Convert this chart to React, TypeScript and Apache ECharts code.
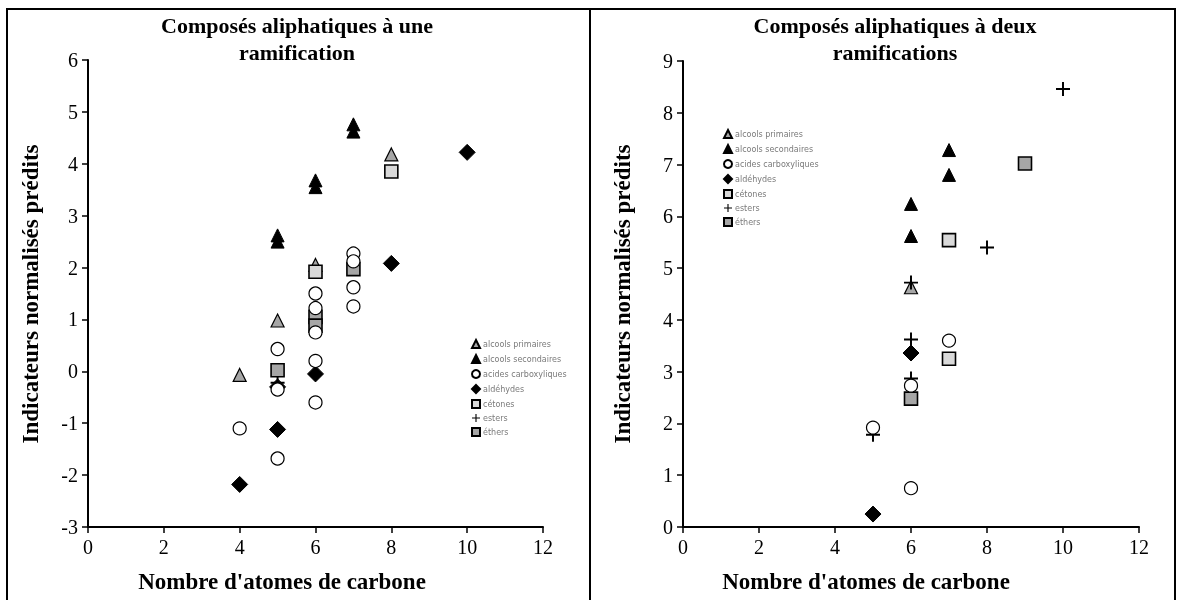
import React, { useEffect, useRef } from "react";
import * as echarts from "echarts";

const seriesNames = [
  "alcools primaires",
  "alcools secondaires",
  "acides carboxyliques",
  "aldéhydes",
  "cétones",
  "esters",
  "éthers",
];

// Left chart: one branch
const leftPrim = [[4, -0.07], [5, 0.98], [6, 2.05], [8, 4.18]];
const leftSec = [[5, 2.5], [5, 2.62], [6, 3.55], [6, 3.68], [7, 4.62], [7, 4.76]];
const leftCircle = [
  [4, -1.1], [5, 0.43], [5, -0.35], [5, -1.68],
  [6, 1.5], [6, 1.22], [6, 0.75], [6, 0.2], [6, -0.6],
  [7, 2.27], [7, 2.12], [7, 1.62], [7, 1.25],
];
const leftDiamond = [[4, -2.18], [5, -0.3], [5, -1.12], [6, -0.05], [8, 2.08], [10, 4.22]];
const leftLightSq = [[6, 1.92], [8, 3.85]];
const leftPlus = [[5, -0.22]];
const leftDarkSq = [[5, 0.02], [6, 1.05], [6, 0.88], [7, 1.97]];

// Right chart: two branches
const rightPrim = [[6, 4.63]];
const rightSec = [[6, 6.24], [6, 5.62], [7, 7.28], [7, 6.8]];
const rightCircle = [[5, 1.92], [6, 2.73], [6, 0.75], [7, 3.6]];
const rightDiamond = [[5, 0.25], [6, 3.36]];
const rightLightSq = [[7, 3.25], [7, 5.54]];
const rightPlus = [[5, 1.78], [6, 2.87], [6, 3.62], [6, 4.72], [8, 5.4], [10, 8.46]];
const rightDarkSq = [[6, 2.48], [9, 7.02]];

const PLUS = "path://M4.3,0H5.7V4.3H10V5.7H5.7V10H4.3V5.7H0V4.3H4.3Z";

const styles = [
  { symbol: "triangle", symbolSize: 13, itemStyle: { color: "#a6a6a6", borderColor: "#000", borderWidth: 1.2, opacity: 1 } },
  { symbol: "triangle", symbolSize: 13, itemStyle: { color: "#000", borderColor: "#000", borderWidth: 1, opacity: 1 } },
  { symbol: "circle", symbolSize: 13, itemStyle: { color: "#fff", borderColor: "#000", borderWidth: 1.2, opacity: 1 } },
  { symbol: "diamond", symbolSize: 16, itemStyle: { color: "#000", borderColor: "#000", borderWidth: 1, opacity: 1 } },
  { symbol: "rect", symbolSize: 13, itemStyle: { color: "#d9d9d9", borderColor: "#000", borderWidth: 1.6, opacity: 1 } },
  { symbol: PLUS, symbolSize: 14, itemStyle: { color: "#000", opacity: 1 } },
  { symbol: "rect", symbolSize: 13, itemStyle: { color: "#a6a6a6", borderColor: "#000", borderWidth: 1.6, opacity: 1 } },
];

const leftData = [leftPrim, leftSec, leftCircle, leftDiamond, leftLightSq, leftPlus, leftDarkSq];
const rightData = [rightPrim, rightSec, rightCircle, rightDiamond, rightLightSq, rightPlus, rightDarkSq];

const FONT = "Liberation Serif";

export default function App() {
  const ref = useRef<HTMLDivElement>(null);
  useEffect(() => {
    if (!ref.current) return;
    const chart = echarts.init(ref.current, undefined, { renderer: "svg" });

    const axisCommon = {
      axisLine: { onZero: false, lineStyle: { color: "#000", width: 2 } },
      axisTick: { show: true, inside: false, length: 6, lineStyle: { color: "#000", width: 1.5 } },
      axisLabel: { color: "#000", fontSize: 20, fontFamily: FONT, margin: 10 },
      splitLine: { show: false },
    };

    const series: any[] = [];
    [leftData, rightData].forEach((set, gi) => {
      set.forEach((d, i) => {
        series.push({
          type: "scatter",
          name: seriesNames[i],
          xAxisIndex: gi,
          yAxisIndex: gi,
          data: d,
          ...styles[i],
          z: i === 2 ? 4 : 3,
        });
      });
    });

    const legendCommon = {
      orient: "vertical",
      data: seriesNames,
      itemWidth: 8,
      itemHeight: 8,
      itemGap: 5,
      selectedMode: false,
      textStyle: { fontSize: 8, color: "#7a7a7a", fontFamily: "DejaVu Sans", padding: [0, 0, 0, -2] },
    };

    const titleFont = `bold 22px "${FONT}"`;
    const axisTitleFont = `bold 23px "${FONT}"`;
    const txt = (x: number, y: number, text: string, font: string, rotation = 0) => ({
      type: "text", x, y, rotation,
      style: { text, font, fill: "#000", textAlign: "center", textVerticalAlign: "middle" },
    });

    chart.setOption({
      animation: false,
      grid: [
        { left: 88, top: 60, width: 455, height: 467 },
        { left: 683, top: 61, width: 456, height: 466 },
      ],
      xAxis: [
        { type: "value", gridIndex: 0, min: 0, max: 12, interval: 2, position: "bottom", ...axisCommon },
        { type: "value", gridIndex: 1, min: 0, max: 12, interval: 2, position: "bottom", ...axisCommon },
      ],
      yAxis: [
        { type: "value", gridIndex: 0, min: -3, max: 6, interval: 1, ...axisCommon },
        { type: "value", gridIndex: 1, min: 0, max: 9, interval: 1, ...axisCommon },
      ],
      legend: [
        { ...legendCommon, left: 466, top: 334 },
        { ...legendCommon, left: 718, top: 124 },
      ],
      series,
      graphic: [
        { type: "rect", shape: { x: 7, y: 9, width: 583, height: 610 }, style: { fill: "none", stroke: "#000", lineWidth: 2 }, z: -1 },
        { type: "rect", shape: { x: 590, y: 9, width: 585, height: 610 }, style: { fill: "none", stroke: "#000", lineWidth: 2 }, z: -1 },
        txt(297, 25, "Composés aliphatiques à une", titleFont),
        txt(297, 52, "ramification", titleFont),
        txt(895, 25, "Composés aliphatiques à deux", titleFont),
        txt(895, 52, "ramifications", titleFont),
        txt(282, 581, "Nombre d'atomes de carbone", axisTitleFont),
        txt(866, 581, "Nombre d'atomes de carbone", axisTitleFont),
        txt(30, 294, "Indicateurs normalisés prédits", axisTitleFont, Math.PI / 2),
        txt(622, 294, "Indicateurs normalisés prédits", axisTitleFont, Math.PI / 2),
      ],
    });
    return () => chart.dispose();
  }, []);
  return <div ref={ref} style={{ position: "fixed", left: 0, top: 0, width: 1181, height: 600 }} />;
}
